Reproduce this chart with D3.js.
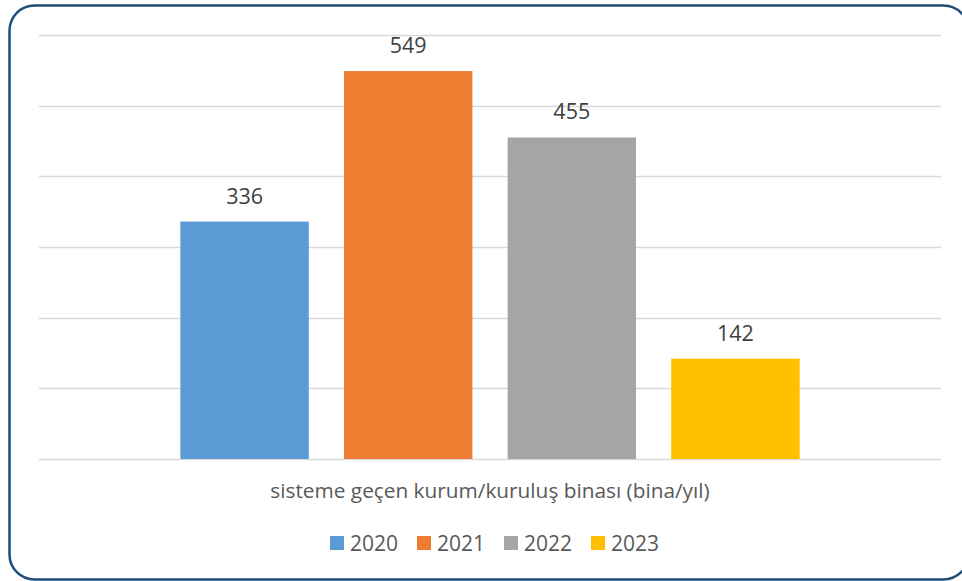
<!DOCTYPE html>
<html><head><meta charset="utf-8">
<script src="https://cdn.jsdelivr.net/npm/d3@7"></script>
<style>body{margin:0;background:#fff;}svg{display:block;}</style>
</head><body>
<svg id="c" width="962" height="581"></svg>
<script>
const categoryTitle = "sisteme geçen kurum/kuruluş binası (bina/yıl)";
const seriesNames = ["2020", "2021", "2022", "2023"];
const seriesValues = [336, 549, 455, 142];
const seriesColors = ["#5B9BD5", "#ED7D31", "#A5A5A5", "#FFC000"];
const yTicks = [0, 100, 200, 300, 400, 500, 600];

const svg = d3.select("#c");
const font = "'Open Sans', sans-serif";

// frame
svg.append("rect").attr("x", 9.5).attr("y", 5.5).attr("width", 959).attr("height", 574)
  .attr("rx", 25).attr("ry", 25).attr("fill", "#fff")
  .attr("stroke", "#1F4E79").attr("stroke-width", 2.5);

const plot = {left: 39, right: 941, top: 35, bottom: 459};
const y = d3.scaleLinear().domain([0, 600]).range([plot.bottom, plot.top]);
const x = d3.scaleBand().domain(seriesNames).range([164, 816]).paddingInner(0.215).paddingOuter(0.1);

svg.append("g").selectAll("line").data(yTicks).join("line")
  .attr("x1", plot.left).attr("x2", plot.right)
  .attr("y1", d => Math.round(y(d)) + 0.5).attr("y2", d => Math.round(y(d)) + 0.5)
  .attr("stroke", "#D9D9D9").attr("stroke-width", 1.5);

const data = seriesNames.map((n, i) => ({name: n, value: seriesValues[i], color: seriesColors[i]}));

svg.append("g").selectAll("rect").data(data).join("rect")
  .attr("x", d => x(d.name)).attr("width", x.bandwidth())
  .attr("y", d => y(d.value)).attr("height", d => y(0) - y(d.value))
  .attr("fill", d => d.color);

svg.append("g").selectAll("text").data(data).join("text")
  .attr("x", d => x(d.name) + x.bandwidth() / 2).attr("y", d => y(d.value) - 18)
  .attr("text-anchor", "middle").attr("font-family", font).attr("font-size", 21.5)
  .attr("fill", "#404040").text(d => d.value);

svg.append("text").attr("x", 490).attr("y", 498).attr("text-anchor", "middle")
  .attr("font-family", font).attr("font-size", 20.8).attr("fill", "#595959").text(categoryTitle);

// legend
const legendX = [330, 417, 504, 591];
const lg = svg.append("g").selectAll("g").data(data).join("g")
  .attr("transform", (d, i) => `translate(${legendX[i]},536)`);
lg.append("rect").attr("width", 14).attr("height", 14).attr("fill", d => d.color);
lg.append("text").attr("x", 20).attr("y", 14.5).attr("font-family", font).attr("font-size", 21)
  .attr("fill", "#595959").text(d => d.name);
</script>
</body></html>
